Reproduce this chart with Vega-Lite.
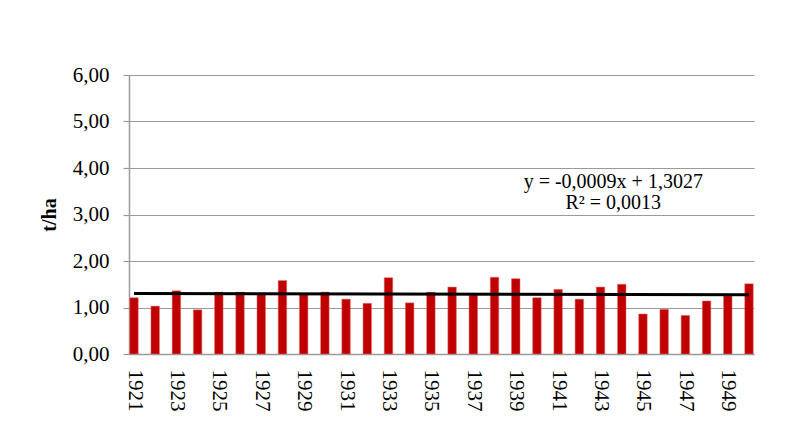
{
  "$schema": "https://vega.github.io/schema/vega-lite/v6.json",
  "width": 625,
  "height": 279,
  "autosize": {"type": "none"},
  "padding": {"left": 129, "top": 75, "right": 45, "bottom": 79},
  "background": "white",
  "config": {
    "view": {"stroke": null},
    "font": "Liberation Serif",
    "axis": {"labelFont": "Liberation Serif", "titleFont": "Liberation Serif", "labelColor": "black", "titleColor": "black"}
  },
  "datasets": {
    "bars": [
      {"year": 1921, "yield": 1.21},
      {"year": 1922, "yield": 1.03},
      {"year": 1923, "yield": 1.36},
      {"year": 1924, "yield": 0.95},
      {"year": 1925, "yield": 1.33},
      {"year": 1926, "yield": 1.33},
      {"year": 1927, "yield": 1.29},
      {"year": 1928, "yield": 1.58},
      {"year": 1929, "yield": 1.29},
      {"year": 1930, "yield": 1.33},
      {"year": 1931, "yield": 1.18},
      {"year": 1932, "yield": 1.09},
      {"year": 1933, "yield": 1.64},
      {"year": 1934, "yield": 1.10},
      {"year": 1935, "yield": 1.33},
      {"year": 1936, "yield": 1.44},
      {"year": 1937, "yield": 1.27},
      {"year": 1938, "yield": 1.65},
      {"year": 1939, "yield": 1.62},
      {"year": 1940, "yield": 1.21},
      {"year": 1941, "yield": 1.39},
      {"year": 1942, "yield": 1.18},
      {"year": 1943, "yield": 1.44},
      {"year": 1944, "yield": 1.50},
      {"year": 1945, "yield": 0.86},
      {"year": 1946, "yield": 0.96},
      {"year": 1947, "yield": 0.83},
      {"year": 1948, "yield": 1.14},
      {"year": 1949, "yield": 1.25},
      {"year": 1950, "yield": 1.51}
    ],
    "trend": [
      {"year": 1921, "yield": 1.3018},
      {"year": 1950, "yield": 1.2757}
    ],
    "notes": [
      {"year": 1943.6, "yield": 3.70, "label": "y = -0,0009x + 1,3027"},
      {"year": 1943.6, "yield": 3.25, "label": "R² = 0,0013"}
    ]
  },
  "layer": [
    {
      "data": {"name": "bars"},
      "mark": {"type": "bar", "size": 8.5, "color": "#C00000", "stroke": "#e07070", "strokeWidth": 0.5, "clip": true},
      "encoding": {
        "x": {
          "field": "year", "type": "quantitative",
          "scale": {"domain": [1921, 1950], "nice": false, "zero": false},
          "axis": {
            "title": null,
            "values": [1921, 1923, 1925, 1927, 1929, 1931, 1933, 1935, 1937, 1939, 1941, 1943, 1945, 1947, 1949],
            "format": "d",
            "labelAngle": 90,
            "labelFontSize": 21,
            "labelPadding": 15,
            "ticks": false,
            "grid": false,
            "domainColor": "#9a9a9a",
            "domainWidth": 1.5,
            "labelOverlap": false,
            "labelFlush": false
          }
        },
        "y": {
          "field": "yield", "type": "quantitative",
          "scale": {"domain": [0, 6], "nice": false},
          "axis": {
            "title": "t/ha",
            "titleFontSize": 20,
            "titleFontWeight": "bold",
            "titlePadding": 13,
            "values": [0, 1, 2, 3, 4, 5, 6],
            "labelExpr": "replace(format(datum.value, '.2f'), '.', ',')",
            "labelFontSize": 21,
            "labelPadding": 14,
            "tickSize": 6,
            "tickColor": "#9a9a9a",
            "tickWidth": 1.2,
            "domainColor": "#9a9a9a",
            "domainWidth": 1.5,
            "gridColor": "#9a9a9a",
            "gridWidth": 1.2
          }
        }
      }
    },
    {
      "data": {"name": "trend"},
      "mark": {"type": "line", "color": "black", "strokeWidth": 3, "clip": true},
      "encoding": {
        "x": {"field": "year", "type": "quantitative"},
        "y": {"field": "yield", "type": "quantitative"}
      }
    },
    {
      "data": {"name": "notes"},
      "mark": {"type": "text", "fontSize": 20, "font": "Liberation Serif", "align": "center", "baseline": "middle", "color": "black"},
      "encoding": {
        "x": {"field": "year", "type": "quantitative"},
        "y": {"field": "yield", "type": "quantitative"},
        "text": {"field": "label"}
      }
    }
  ]
}
